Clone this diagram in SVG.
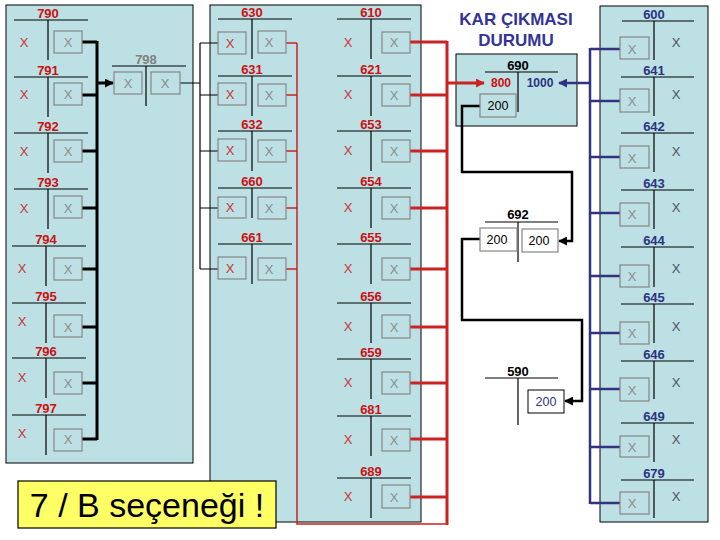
<svg xmlns="http://www.w3.org/2000/svg" width="720" height="540" viewBox="0 0 720 540">
<style>
text{font-family:"Liberation Sans",Arial,sans-serif}
.panel{fill:#bde0e4;stroke:#000;stroke-width:1}
.bx{fill:none;stroke:#858585;stroke-width:1.2}
.tl{stroke:#000;stroke-width:1.2;fill:none}
.lr{fill:#cc1111;font-weight:bold;font-size:13px;text-anchor:middle}
.lb{fill:#2a3380;font-weight:bold;font-size:13px;text-anchor:middle}
.lg{fill:#808080;font-weight:bold;font-size:13px;text-anchor:middle}
.lk{fill:#000;font-weight:bold;font-size:13px;text-anchor:middle}
.xr{fill:#cc3333;font-size:13px;text-anchor:middle}
.xg{fill:#8c8c8c;font-size:13px;text-anchor:middle}
.xd{fill:#505060;font-size:13px;text-anchor:middle}
.n{font-size:12.5px;text-anchor:middle;fill:#000}
.cb{stroke:#000;stroke-width:3;fill:none}
.ck{stroke:#000;stroke-width:1.2;fill:none}
.crt{stroke:#cc2222;stroke-width:1.5;fill:none}
.crk{stroke:#cc2222;stroke-width:3;fill:none}
.cbl{stroke:#333380;stroke-width:2.5;fill:none}
.cbk{stroke:#000;stroke-width:2.5;fill:none}
</style>
<defs>
<marker id="ak" viewBox="0 0 10 10" refX="9" refY="5" markerWidth="9" markerHeight="9" markerUnits="userSpaceOnUse" orient="auto"><path d="M0,0L10,5L0,10z" fill="#000"/></marker>
<marker id="ar" viewBox="0 0 10 10" refX="9" refY="5" markerWidth="9" markerHeight="9" markerUnits="userSpaceOnUse" orient="auto"><path d="M0,0L10,5L0,10z" fill="#cc2222"/></marker>
<marker id="ab" viewBox="0 0 10 10" refX="9" refY="5" markerWidth="9" markerHeight="9" markerUnits="userSpaceOnUse" orient="auto"><path d="M0,0L10,5L0,10z" fill="#333380"/></marker>
</defs>
<rect width="720" height="540" fill="#fff"/>
<g id="panels">
<rect class="panel" x="6" y="5" width="187" height="458"/>
<rect class="panel" x="210" y="5" width="211" height="517"/>
<rect class="panel" x="600" y="6" width="108" height="516"/>
<rect class="panel" x="456" y="54" width="121" height="72"/>
</g>
<g id="connectors">
<path class="cb" d="M82,42H97M82,95H97M82,151H97M82,208H97M82,269H97M82,327H97M82,383H97M82,439H97M97,41V440"/>
<path class="cb" d="M97,83H113" marker-end="url(#ak)"/>
<path class="ck" d="M180,83H200M200,43V269M200,43H218M200,95H218M200,151H218M200,208H218M200,269H218"/>
<path class="crt" d="M286,43H297M286,95H297M286,151H297M286,208H297M286,269H297M297,43V524H447"/>
<path class="crk" d="M410,42H447M410,95H447M410,151H447M410,208H447M410,269H447M410,327H447M410,383H447M410,439H447M410,497H447M447,41V525"/>
<path class="crk" d="M447,83H484" marker-end="url(#ar)"/>
<path class="cbl" d="M620,49H590M620,101H590M620,157H590M620,213H590M620,276H590M620,333H590M620,389H590M620,447H590M620,503H590M590,48V504"/>
<path class="cbl" d="M590,83H559" marker-end="url(#ab)"/>
<path class="cbk" d="M480,106H462V172H572V241H559" marker-end="url(#ak)"/>
<path class="cbk" d="M480,239H462V320H582V401H565" marker-end="url(#ak)"/>
</g>
<g id="a790"><text class="lr" x="48" y="18">790</text><path class="tl" d="M14,20H88M48,20V60"/><text class="xr" x="24" y="47">X</text><rect class="bx" x="54" y="31" width="28" height="22"/><text class="xg" x="68" y="47">X</text></g>
<g id="a791"><text class="lr" x="48" y="75">791</text><path class="tl" d="M14,77H88M48,77V117"/><text class="xr" x="24" y="99">X</text><rect class="bx" x="54" y="83" width="28" height="22"/><text class="xg" x="68" y="99">X</text></g>
<g id="a792"><text class="lr" x="48" y="131">792</text><path class="tl" d="M14,133H88M48,133V173"/><text class="xr" x="24" y="156">X</text><rect class="bx" x="54" y="140" width="28" height="22"/><text class="xg" x="68" y="156">X</text></g>
<g id="a793"><text class="lr" x="48" y="187">793</text><path class="tl" d="M14,189H88M48,189V229"/><text class="xr" x="24" y="213">X</text><rect class="bx" x="54" y="196" width="28" height="22"/><text class="xg" x="68" y="213">X</text></g>
<g id="a794"><text class="lr" x="46" y="244">794</text><path class="tl" d="M12,246H86M46,246V286"/><text class="xr" x="22" y="273">X</text><rect class="bx" x="54" y="258" width="28" height="22"/><text class="xg" x="68" y="274">X</text></g>
<g id="a795"><text class="lr" x="46" y="301">795</text><path class="tl" d="M12,303H86M46,303V343"/><text class="xr" x="22" y="326">X</text><rect class="bx" x="54" y="315" width="28" height="22"/><text class="xg" x="68" y="332">X</text></g>
<g id="a796"><text class="lr" x="46" y="356">796</text><path class="tl" d="M12,358H86M46,358V398"/><text class="xr" x="22" y="382">X</text><rect class="bx" x="54" y="372" width="28" height="22"/><text class="xg" x="68" y="388">X</text></g>
<g id="a797"><text class="lr" x="46" y="413">797</text><path class="tl" d="M12,415H86M46,415V455"/><text class="xr" x="22" y="438">X</text><rect class="bx" x="54" y="429" width="28" height="22"/><text class="xg" x="68" y="444">X</text></g>
<g id="a798"><text class="lg" x="146" y="64">798</text><path class="tl" d="M112,66H186M146,66V106"/><rect class="bx" x="114" y="72" width="28" height="22"/><text class="xg" x="128" y="88">X</text><rect class="bx" x="151" y="72" width="29" height="22"/><text class="xg" x="165" y="88">X</text></g>
<g id="a630"><text class="lr" x="252" y="17">630</text><path class="tl" d="M218,19H292M252,19V59"/><rect class="bx" x="218" y="32" width="28" height="22"/><text class="xr" x="230" y="48">X</text><rect class="bx" x="258" y="31" width="28" height="22"/><text class="xg" x="269" y="47">X</text></g>
<g id="a631"><text class="lr" x="252" y="74">631</text><path class="tl" d="M218,76H292M252,76V116"/><rect class="bx" x="218" y="83" width="28" height="22"/><text class="xr" x="230" y="99">X</text><rect class="bx" x="258" y="84" width="28" height="22"/><text class="xg" x="269" y="100">X</text></g>
<g id="a632"><text class="lr" x="252" y="129">632</text><path class="tl" d="M218,131H292M252,131V171"/><rect class="bx" x="218" y="139" width="28" height="22"/><text class="xr" x="230" y="155">X</text><rect class="bx" x="258" y="140" width="28" height="22"/><text class="xg" x="269" y="156">X</text></g>
<g id="a660"><text class="lr" x="252" y="186">660</text><path class="tl" d="M218,188H292M252,188V218"/><rect class="bx" x="218" y="197" width="28" height="21"/><text class="xr" x="230" y="212">X</text><rect class="bx" x="258" y="197" width="28" height="22"/><text class="xg" x="269" y="213">X</text></g>
<g id="a661"><text class="lr" x="252" y="242">661</text><path class="tl" d="M218,244H292M252,244V284"/><rect class="bx" x="218" y="257" width="28" height="22"/><text class="xr" x="230" y="273">X</text><rect class="bx" x="258" y="258" width="28" height="22"/><text class="xg" x="269" y="274">X</text></g>
<g id="a610"><text class="lr" x="371" y="17">610</text><path class="tl" d="M337,19H411M371,19V59"/><text class="xr" x="348" y="47">X</text><rect class="bx" x="382" y="32" width="28" height="21"/><text class="xg" x="394" y="47">X</text></g>
<g id="a621"><text class="lr" x="371" y="74">621</text><path class="tl" d="M337,76H411M371,76V116"/><text class="xr" x="348" y="99">X</text><rect class="bx" x="382" y="84" width="28" height="22"/><text class="xg" x="394" y="100">X</text></g>
<g id="a653"><text class="lr" x="371" y="129">653</text><path class="tl" d="M337,131H411M371,131V171"/><text class="xr" x="348" y="155">X</text><rect class="bx" x="382" y="140" width="28" height="22"/><text class="xg" x="394" y="156">X</text></g>
<g id="a654"><text class="lr" x="371" y="186">654</text><path class="tl" d="M337,188H411M371,188V228"/><text class="xr" x="348" y="212">X</text><rect class="bx" x="382" y="197" width="28" height="22"/><text class="xg" x="394" y="213">X</text></g>
<g id="a655"><text class="lr" x="371" y="242">655</text><path class="tl" d="M337,244H411M371,244V284"/><text class="xr" x="348" y="273">X</text><rect class="bx" x="382" y="258" width="28" height="22"/><text class="xg" x="394" y="274">X</text></g>
<g id="a656"><text class="lr" x="371" y="301">656</text><path class="tl" d="M337,303H411M371,303V343"/><text class="xr" x="348" y="331">X</text><rect class="bx" x="382" y="315" width="28" height="23"/><text class="xg" x="394" y="332">X</text></g>
<g id="a659"><text class="lr" x="371" y="357">659</text><path class="tl" d="M337,359H411M371,359V399"/><text class="xr" x="348" y="387">X</text><rect class="bx" x="382" y="372" width="28" height="22"/><text class="xg" x="394" y="388">X</text></g>
<g id="a681"><text class="lr" x="371" y="414">681</text><path class="tl" d="M337,416H411M371,416V456"/><text class="xr" x="348" y="444">X</text><rect class="bx" x="382" y="429" width="28" height="22"/><text class="xg" x="394" y="445">X</text></g>
<g id="a689"><text class="lr" x="371" y="476">689</text><path class="tl" d="M337,478H411M371,478V518"/><text class="xr" x="348" y="501">X</text><rect class="bx" x="382" y="485" width="28" height="23"/><text class="xg" x="394" y="502">X</text></g>
<g id="a600"><text class="lb" x="654" y="19">600</text><path class="tl" d="M622,21H694M654,21V60"/><rect class="bx" x="620" y="37" width="29" height="22"/><text class="xg" x="632" y="54">X</text><text class="xd" x="676" y="47">X</text></g>
<g id="a641"><text class="lb" x="654" y="75">641</text><path class="tl" d="M621,77H694M654,77V116"/><rect class="bx" x="620" y="89" width="29" height="23"/><text class="xg" x="632" y="106">X</text><text class="xd" x="676" y="99">X</text></g>
<g id="a642"><text class="lb" x="654" y="131">642</text><path class="tl" d="M621,133H694M654,133V172"/><rect class="bx" x="620" y="146" width="29" height="22"/><text class="xg" x="632" y="163">X</text><text class="xd" x="676" y="156">X</text></g>
<g id="a643"><text class="lb" x="654" y="188">643</text><path class="tl" d="M621,190H694M654,190V229"/><rect class="bx" x="620" y="203" width="29" height="23"/><text class="xg" x="632" y="219">X</text><text class="xd" x="676" y="212">X</text></g>
<g id="a644"><text class="lb" x="654" y="245">644</text><path class="tl" d="M621,247H694M654,247V287"/><rect class="bx" x="620" y="265" width="29" height="22"/><text class="xg" x="632" y="281">X</text><text class="xd" x="676" y="273">X</text></g>
<g id="a645"><text class="lb" x="654" y="302">645</text><path class="tl" d="M621,304H694M654,304V343"/><rect class="bx" x="620" y="322" width="29" height="22"/><text class="xg" x="632" y="338">X</text><text class="xd" x="676" y="331">X</text></g>
<g id="a646"><text class="lb" x="654" y="359">646</text><path class="tl" d="M621,361H694M654,361V399"/><rect class="bx" x="620" y="378" width="29" height="23"/><text class="xg" x="632" y="395">X</text><text class="xd" x="676" y="387">X</text></g>
<g id="a649"><text class="lb" x="654" y="421">649</text><path class="tl" d="M621,423H694M654,423V462"/><rect class="bx" x="620" y="436" width="29" height="21"/><text class="xg" x="632" y="452">X</text><text class="xd" x="676" y="444">X</text></g>
<g id="a679"><text class="lb" x="654" y="478">679</text><path class="tl" d="M621,480H694M654,480V518"/><rect class="bx" x="620" y="492" width="29" height="22"/><text class="xg" x="632" y="508">X</text><text class="xd" x="676" y="501">X</text></g>
<g id="title"><text x="516" y="25" text-anchor="middle" font-weight="bold" font-size="17" fill="#333399">KAR ÇIKMASI</text><text x="516" y="46" text-anchor="middle" font-weight="bold" font-size="17" fill="#333399">DURUMU</text></g>
<g id="a690"><text class="lk" x="518" y="70">690</text><path class="tl" d="M485,72H558M518,72V112"/><text x="501" y="87" text-anchor="middle" font-weight="bold" font-size="12" fill="#cc1111">800</text><text x="540" y="87" text-anchor="middle" font-weight="bold" font-size="12" fill="#2a3380">1000</text><rect class="bx" x="480" y="94" width="36" height="23"/><text class="n" x="498" y="110">200</text></g>
<g id="a692"><text class="lk" x="518" y="219">692</text><path class="tl" d="M485,222H558M518,222V262"/><rect class="bx" x="480" y="228" width="37" height="23"/><text class="n" x="497" y="244">200</text><rect class="bx" x="522" y="229" width="36" height="23"/><text class="n" x="539" y="245">200</text></g>
<g id="a590"><text class="lk" x="518" y="376">590</text><path class="tl" d="M485,378H558M518,378V425"/><rect x="528" y="390" width="36" height="23" fill="#fff" stroke="#000" stroke-width="1"/><text x="546" y="406" text-anchor="middle" font-size="12.5" fill="#333380">200</text></g>
<g id="note"><rect x="18" y="481" width="258" height="47" fill="#ffff66" stroke="#000" stroke-width="1.2"/><text x="147" y="517" text-anchor="middle" font-size="34" fill="#000">7 / B seçeneği !</text></g>
</svg>
